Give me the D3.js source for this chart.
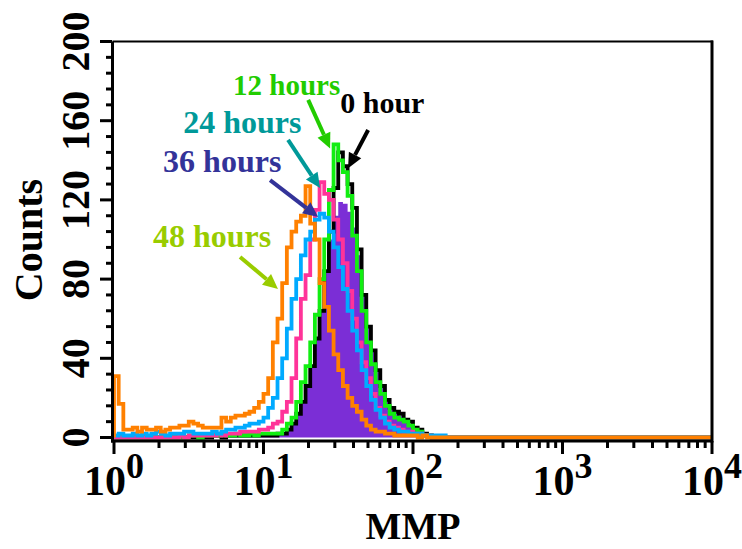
<!DOCTYPE html>
<html>
<head>
<meta charset="utf-8">
<script src="https://cdn.jsdelivr.net/npm/d3@7"></script>
<style>
  html, body { margin: 0; padding: 0; background: #fff; }
  svg { display: block; }
  text { font-family: "Liberation Serif", "Times New Roman", serif; font-weight: bold; }
</style>
</head>
<body>
<svg id="chart" width="742" height="549"></svg>
<script>
// Histogram channels: 32 bins per decade on a 10^0..10^4 log axis.
const binsPerDecade = 32;

// Counts per bin, starting at bin 0 (MMP = 1).
const counts48h = [31,17,4,4,5,3,5,4,4,5,3,4,5,5,6,6,8,7,6,5,5,5,5,10,8,10,11,11,12,13,15,18,22,30,48,60,78,96,104,109,112,127,108,100,78,66,54,42,34,26,20,16,13,9,6,4,3,3,2,2,1,1,1,1,1,0,1];
const counts36h = [1,2,1,1,2,1,2,1,2,3,2,1,2,2,2,3,3,2,2,2,2,3,2,3,4,4,5,5,6,7,7,8,10,15,20,30,40,55,70,80,92,100,104,110,113,111,104,96,86,75,64,54,44,34,26,19,14,10,7,5,4,3,3,2,2,2,1,1,1,1,1];
const counts24h = [0,0,0,0,0,0,0,0,0,0,0,0,0,0,1,0,1,1,1,1,1,1,2,1,2,2,2,3,3,3,3,4,4,5,7,8,13,18,30,50,70,82,100,115,129,123,120,110,100,88,74,60,48,38,30,22,15,11,8,6,5,4,3,3,2,2,1,1];
const counts12h = [0,0,0,0,0,0,0,0,0,0,0,0,0,0,0,0,1,1,0,1,1,1,1,2,1,1,2,1,1,2,1,2,2,2,2,2,4,7,10,18,28,36,48,62,80,100,125,148,140,134,122,102,84,64,48,37,28,22,16,12,10,9,8,6,4,3,1,1];
const counts0h  = [0,0,0,0,0,0,0,0,0,0,0,0,0,0,0,0,0,0,0,0,0,1,1,0,1,1,1,1,1,1,1,1,1,1,1,2,2,4,7,12,18,26,36,50,64,84,104,126,144,137,128,116,95,72,56,44,34,26,19,15,13,12,9,8,5,4,2,1];
const countsFilled = [0,0,0,0,0,0,0,0,0,0,0,0,0,0,0,0,0,0,0,0,0,1,1,0,1,1,1,1,1,1,1,1,1,1,1,2,2,4,7,12,18,26,36,50,64,84,100,112,119,118,114,106,92,72,56,44,34,26,19,15,13,11,9,7,5,4,2,1];

// Axis ticks and labels
const yMajorTicks = [0, 40, 80, 120, 160, 200];
const yMinorStep = 8;
const xDecades = [0, 1, 2, 3, 4];

// Annotations: label text position and arrow (start -> tip) in data units (MMP, count)
const annotations = [
  { text: "12 hours", color: "#22cc00", size: 29, at: [6.26, 173], from: [19.9, 170.5], to: [27.9, 146] },
  { text: "0 hour",   color: "#000000", size: 30, at: [32.6, 164], from: [50.1, 155.3], to: [36.8, 136] },
  { text: "24 hours", color: "#009999", size: 32, at: [2.9, 153.8], from: [14.6, 150.3], to: [23.9, 126] },
  { text: "36 hours", color: "#333399", size: 32, at: [2.13, 134.1], from: [11.07, 130], to: [23.2, 111.4] },
  { text: "48 hours", color: "#99cc00", size: 32, at: [1.82, 96.2], from: [6.97, 91.2], to: [12.5, 75] }
];

const svg = d3.select("#chart");

const x = d3.scaleLog().domain([1, 1e4]).range([114, 712]);
const y = d3.scaleLinear().domain([0, 200]).range([437.5, 41.5]);

// Convert a count array into step points (bin left edge, count), closed at zero to the axis end.
function stepPoints(arr) {
  const pts = [{ e: 1, c: 0 }];
  arr.forEach((c, i) => pts.push({ e: Math.pow(10, i / binsPerDecade), c }));
  pts.push({ e: Math.pow(10, arr.length / binsPerDecade), c: 0 });
  pts.push({ e: 1e4, c: 0 });
  return pts;
}

const line = d3.line().x(d => x(d.e)).y(d => y(d.c)).curve(d3.curveStepAfter);
const area = d3.area().x(d => x(d.e)).y0(y(0)).y1(d => y(d.c)).curve(d3.curveStepAfter);

const plot = svg.append("g");

// Filled histogram underneath
plot.append("path").attr("d", area(stepPoints(countsFilled))).attr("fill", "#7b2ed6");

// Outline histograms, bottom to top
const outlines = [
  { data: counts0h,  color: "#000000" },
  { data: counts12h, color: "#11ee11" },
  { data: counts24h, color: "#ff3399" },
  { data: counts36h, color: "#00aaff" },
  { data: counts48h, color: "#ff8000" }
];
outlines.forEach(s => {
  plot.append("path")
    .attr("d", line(stepPoints(s.data)))
    .attr("fill", "none")
    .attr("stroke", s.color)
    .attr("stroke-width", 3.8)
    .attr("stroke-linejoin", "miter");
});

// Frame: axes and box
const axes = svg.append("g").attr("stroke", "#000");
axes.append("line").attr("x1", 112.5).attr("x2", 112.5).attr("y1", y(200)).attr("y2", 442.5).attr("stroke-width", 3);
axes.append("line").attr("x1", 111).attr("x2", 713).attr("y1", 441).attr("y2", 441).attr("stroke-width", 3);
axes.append("line").attr("x1", 112.5).attr("x2", 713).attr("y1", y(200)).attr("y2", y(200)).attr("stroke-width", 2);
axes.append("line").attr("x1", 712).attr("x2", 712).attr("y1", y(200) - 1).attr("y2", 442.5).attr("stroke-width", 3);

// Y ticks
d3.range(0, 201, yMinorStep).forEach(v => {
  const major = yMajorTicks.includes(v);
  axes.append("line")
    .attr("x1", major ? 100 : 106).attr("x2", 112)
    .attr("y1", y(v)).attr("y2", y(v))
    .attr("stroke-width", 3);
});
// X ticks
x.ticks().forEach(v => {
  const major = Math.abs(Math.log10(v) - Math.round(Math.log10(v))) < 1e-9;
  axes.append("line")
    .attr("x1", x(v)).attr("x2", x(v))
    .attr("y1", 441).attr("y2", major ? 454 : 448)
    .attr("stroke-width", 3);
});

// Y tick labels (rotated)
yMajorTicks.forEach(v => {
  svg.append("text")
    .attr("transform", `translate(89,${y(v)}) rotate(-90)`)
    .attr("text-anchor", "middle")
    .attr("font-size", 40)
    .text(v);
});

// X tick labels: 10^k
xDecades.forEach(k => {
  const t = svg.append("text")
    .attr("x", x(Math.pow(10, k)))
    .attr("y", 495)
    .attr("text-anchor", "middle")
    .attr("font-size", 42);
  t.append("tspan").text("10");
  t.append("tspan").attr("dy", -17).attr("font-size", 36).text(String(k));
});

// Axis titles
svg.append("text")
  .attr("transform", "translate(42,240) rotate(-90)")
  .attr("text-anchor", "middle")
  .attr("font-size", 40)
  .text("Counts");
svg.append("text")
  .attr("x", x(100)).attr("y", 539)
  .attr("text-anchor", "middle")
  .attr("font-size", 38)
  .text("MMP");

// Annotations with arrows
annotations.forEach(a => {
  svg.append("text")
    .attr("x", x(a.at[0])).attr("y", y(a.at[1]))
    .attr("fill", a.color)
    .attr("font-size", a.size)
    .text(a.text);
  const x0 = x(a.from[0]), y0 = y(a.from[1]);
  const x1 = x(a.to[0]), y1 = y(a.to[1]);
  const ang = Math.atan2(y1 - y0, x1 - x0);
  const headLen = 15, headHalf = 7;
  const bx = x1 - headLen * Math.cos(ang), by = y1 - headLen * Math.sin(ang);
  svg.append("line")
    .attr("x1", x0).attr("y1", y0).attr("x2", bx).attr("y2", by)
    .attr("stroke", a.color).attr("stroke-width", 4);
  const px = -Math.sin(ang), py = Math.cos(ang);
  svg.append("polygon")
    .attr("points", [
      [x1, y1],
      [bx + headHalf * px, by + headHalf * py],
      [bx - headHalf * px, by - headHalf * py]
    ].map(p => p.join(",")).join(" "))
    .attr("fill", a.color);
});
</script>
</body>
</html>
